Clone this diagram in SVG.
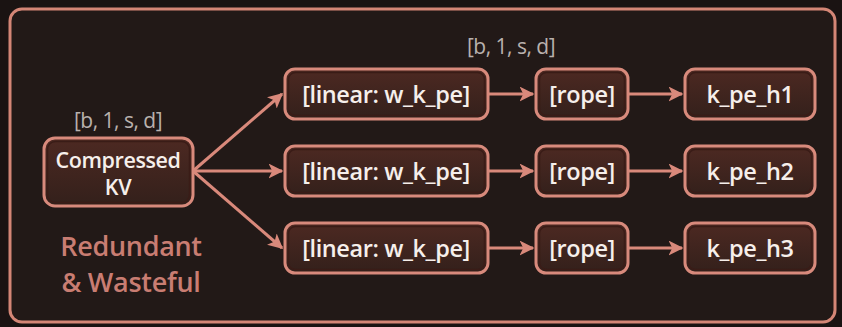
<svg xmlns="http://www.w3.org/2000/svg" width="842" height="327" viewBox="0 0 842 327">
  <style>
    .box { fill: url(#boxFill); stroke: #d88a7c; stroke-width: 3; }
    .inner { fill: none; stroke: #3a1c17; stroke-width: 1.5; }
    .lbl { font-family: "Open Sans", "Noto Sans", sans-serif; font-weight: 600; fill: #f6efeb; text-anchor: middle; letter-spacing: -0.4px; }
    .shape { font-family: "Open Sans", "Noto Sans", sans-serif; font-size: 21px; fill: #b9b1ad; text-anchor: middle; letter-spacing: -0.5px; }
    .note { font-family: "Open Sans", "Noto Sans", sans-serif; font-size: 27px; font-weight: 600; fill: #c97d72; text-anchor: middle; letter-spacing: -0.3px; }
    .edge { stroke: #d9897b; stroke-width: 3; fill: none; marker-end: url(#arrow); }
  </style>
  <defs>
    <linearGradient id="boxFill" x1="0" y1="0" x2="0" y2="1">
      <stop offset="0" stop-color="#4d2922"/>
      <stop offset="1" stop-color="#33201b"/>
    </linearGradient>
    <marker id="arrow" viewBox="0 0 10 10" refX="9" refY="5" markerWidth="5" markerHeight="5" orient="auto" markerUnits="strokeWidth">
      <path d="M0,0 L10,5 L0,10 L2.5,5 Z" fill="#d9897b"/>
    </marker>
  </defs>

  <!-- page and frame -->
  <rect x="0" y="0" width="842" height="327" fill="#1a1312"/>
  <rect x="10" y="9" width="825" height="313" rx="12" fill="#221917" stroke="#d48676" stroke-width="3"/>

  <!-- shape annotations -->
  <text class="shape" x="511" y="54">[b, 1, s, d]</text>
  <text class="shape" x="118" y="128">[b, 1, s, d]</text>

  <!-- connectors -->
  <g id="connectors">
    <path class="edge" d="M193,171 L282,94"/>
    <path class="edge" d="M193,171 L282,171"/>
    <path class="edge" d="M193,171 L282,248"/>
    <path class="edge" d="M489,94 L533,94"/>
    <path class="edge" d="M489,171 L533,171"/>
    <path class="edge" d="M489,248 L533,248"/>
    <path class="edge" d="M629,94 L682,94"/>
    <path class="edge" d="M629,171 L682,171"/>
    <path class="edge" d="M629,248 L682,248"/>
  </g>

  <g id="compressed-kv">
    <rect class="box" x="44" y="138" width="149" height="68" rx="11"/>
    <rect class="inner" x="47.5" y="141.5" width="142" height="61" rx="8"/>
    <text class="lbl" x="118" y="168" font-size="21.5">Compressed</text>
    <text class="lbl" x="118" y="195" font-size="21.5">KV</text>
  </g>

  <text class="note" x="131" y="256">Redundant</text>
  <text class="note" x="131" y="292">&amp; Wasteful</text>

  <!-- row 1 -->
  <g id="linear-1">
    <rect class="box" x="285" y="69" width="203" height="50" rx="10"/>
    <rect class="inner" x="288.5" y="72.5" width="196" height="43" rx="7"/>
    <text class="lbl" x="386" y="103" font-size="23.5">[linear: w_k_pe]</text>
  </g>
  <g id="rope-1">
    <rect class="box" x="536" y="69" width="92" height="50" rx="10"/>
    <rect class="inner" x="539.5" y="72.5" width="85" height="43" rx="7"/>
    <text class="lbl" x="582" y="103" font-size="23.5">[rope]</text>
  </g>
  <g id="k-pe-h1">
    <rect class="box" x="685" y="69" width="130" height="50" rx="10"/>
    <rect class="inner" x="688.5" y="72.5" width="123" height="43" rx="7"/>
    <text class="lbl" x="750" y="103" font-size="23.5">k_pe_h1</text>
  </g>

  <!-- row 2 -->
  <g id="linear-2">
    <rect class="box" x="285" y="146" width="203" height="50" rx="10"/>
    <rect class="inner" x="288.5" y="149.5" width="196" height="43" rx="7"/>
    <text class="lbl" x="386" y="180" font-size="23.5">[linear: w_k_pe]</text>
  </g>
  <g id="rope-2">
    <rect class="box" x="536" y="146" width="92" height="50" rx="10"/>
    <rect class="inner" x="539.5" y="149.5" width="85" height="43" rx="7"/>
    <text class="lbl" x="582" y="180" font-size="23.5">[rope]</text>
  </g>
  <g id="k-pe-h2">
    <rect class="box" x="685" y="146" width="130" height="50" rx="10"/>
    <rect class="inner" x="688.5" y="149.5" width="123" height="43" rx="7"/>
    <text class="lbl" x="750" y="180" font-size="23.5">k_pe_h2</text>
  </g>

  <!-- row 3 -->
  <g id="linear-3">
    <rect class="box" x="285" y="223" width="203" height="50" rx="10"/>
    <rect class="inner" x="288.5" y="226.5" width="196" height="43" rx="7"/>
    <text class="lbl" x="386" y="257" font-size="23.5">[linear: w_k_pe]</text>
  </g>
  <g id="rope-3">
    <rect class="box" x="536" y="223" width="92" height="50" rx="10"/>
    <rect class="inner" x="539.5" y="226.5" width="85" height="43" rx="7"/>
    <text class="lbl" x="582" y="257" font-size="23.5">[rope]</text>
  </g>
  <g id="k-pe-h3">
    <rect class="box" x="685" y="223" width="130" height="50" rx="10"/>
    <rect class="inner" x="688.5" y="226.5" width="123" height="43" rx="7"/>
    <text class="lbl" x="750" y="257" font-size="23.5">k_pe_h3</text>
  </g>
</svg>
